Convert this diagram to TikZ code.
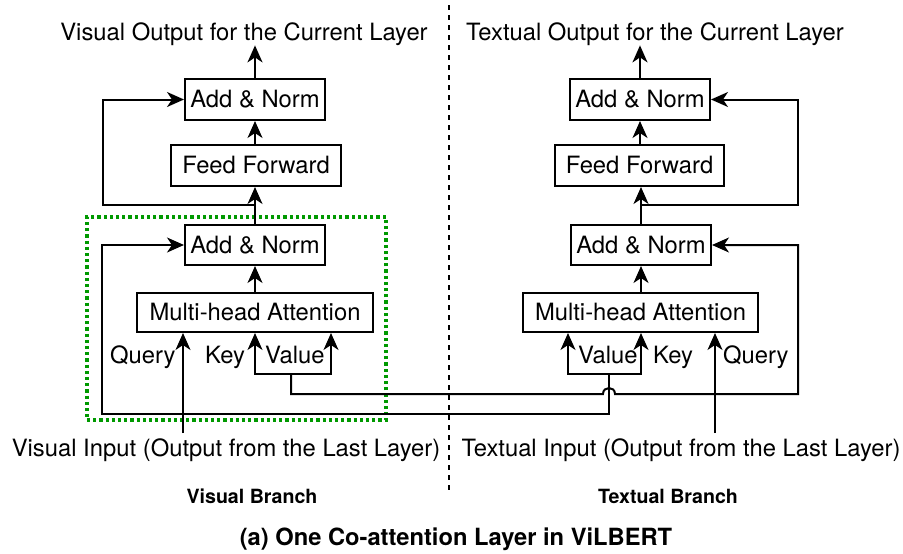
\documentclass[tikz,border=0pt]{standalone}
\usepackage{fontspec}
\setmainfont{TeX Gyre Heros}
\usetikzlibrary{arrows.meta}
\definecolor{grp}{HTML}{009900}
\begin{document}
\begin{tikzpicture}[x=1pt,y=-1pt,
  font=\fontsize{23.8}{28}\selectfont,
  blk/.style={draw,line width=2pt,inner sep=0pt,minimum height=40pt,align=center},
  txt/.style={inner sep=0pt,anchor=base},
  lbl/.style={inner sep=0pt,anchor=base west},
  ln/.style={line width=2pt,line join=miter},
  tip/.tip={Stealth[length=17pt,width=15pt,inset=5pt]},
  arr/.style={ln,-tip},
  barr/.style={ln,tip-tip},
  gbox/.style={draw=grp,line width=3.2pt,dash pattern=on 3.2pt off 3pt,inner sep=0pt},
  bold/.style={font=\fontsize{19.6}{23}\selectfont\bfseries}]
\useasboundingbox (0,0) rectangle (903,554);

% group box
\node[gbox,minimum width=299pt,minimum height=203pt] (grpbox) at (236.5,318.5) {};

% divider
\coordinate (dtop) at (449,5);
\coordinate (dbot) at (449,490);
\draw[line width=1.3pt,dash pattern=on 5pt off 5pt] (dtop) -- (dbot);

% texts
\node[txt] (vout) at (244,40) {Visual Output for the Current Layer};
\node[txt] (tout) at (655,40) {Textual Output for the Current Layer};
\node[txt,inner ysep=5pt] (vin) at (226,456) {Visual Input (Output from the Last Layer)};
\node[txt,inner ysep=5pt] (tin) at (681,456) {Textual Input (Output from the Last Layer)};
\node[txt,bold] (vbr) at (252,503) {Visual Branch};
\node[txt,bold] (tbr) at (668,503) {Textual Branch};
\node[txt,font=\fontsize{23.7}{28}\selectfont\bfseries] (cap) at (456,545) {(a) One Co-attention Layer in ViLBERT};

% left branch boxes
\node[blk,minimum width=140pt,minimum height=41pt] (an1L) at (255,99.5) {Add \& Norm};
\node[blk,minimum width=170pt,minimum height=41pt] (ffL) at (256,165.5) {Feed Forward};
\node[blk,minimum width=140pt] (an2L) at (255,245) {Add \& Norm};
\node[blk,minimum width=236pt,minimum height=39pt] (mhaL) at (255,312.5) {Multi-head Attention};

% right branch boxes
\node[blk,minimum width=140pt,minimum height=41pt] (an1R) at (640,99.5) {Add \& Norm};
\node[blk,minimum width=169pt,minimum height=41pt] (ffR) at (639.5,165.5) {Feed Forward};
\node[blk,minimum width=140pt] (an2R) at (641,245) {Add \& Norm};
\node[blk,minimum width=235pt,minimum height=39pt] (mhaR) at (640.5,312.5) {Multi-head Attention};

% labels
\node[lbl] (qlL) at (110,363) {Query};
\node[lbl] (klL) at (205,363) {Key};
\node[lbl] (vlL) at (265,363) {Value};
\node[lbl] (vlR) at (578,363) {Value};
\node[lbl] (klR) at (653,363) {Key};
\node[lbl] (qlR) at (723,363) {Query};

% coordinates
\coordinate (qL) at (183,0);
\coordinate (qR) at (715,0);
\coordinate (kL) at (255,374);
\coordinate (vL) at (331,374);
\coordinate (mL) at (291,374);
\coordinate (vR) at (568,374);
\coordinate (kR) at (641,374);
\coordinate (mR) at (609,374);
\coordinate (jL) at (255,205);
\coordinate (cL) at (103,205);
\coordinate (jR) at (641,205);
\coordinate (cR) at (798,205);
\coordinate (sx2) at (102,0);
\coordinate (bot2) at (0,414);
\coordinate (hopy) at (0,394);
\coordinate (hopa) at (603,394);
\coordinate (hopb) at (615,394);

% left vertical flow
\draw[arr] (an1L.north) -- (an1L.north |- vout.south);
\draw[arr] (an1L.south |- ffL.north) -- (an1L.south);
\draw[arr] (an2L.north) -- (an2L.north |- ffL.south);
\draw[arr] (mhaL.north) -- (an2L.south);

% right vertical flow
\draw[arr] (an1R.north) -- (an1R.north |- tout.south);
\draw[arr] (an1R.south |- ffR.north) -- (an1R.south);
\draw[arr] (an2R.north) -- (an2R.north |- ffR.south);
\draw[arr] (an2R.south |- mhaR.north) -- (an2R.south);

% residuals around feed forward
\draw[arr] (jL) -- (cL) |- (an1L.west);
\draw[arr] (jR) -- (cR) |- (an1R.east);

% queries
\draw[arr] (vin.north -| qL) -- (qL |- mhaL.south);
\draw[arr] (tin.north -| qR) -- (qR |- mhaR.south);

% key/value brackets
\draw[barr] (kL |- mhaL.south) -- (kL) -- (vL) -- (vL |- mhaL.south);
\draw[barr] (vR |- mhaR.south) -- (vR) -- (kR) -- (kR |- mhaR.south);

% cross connections
\draw[arr] (mR) -- (mR |- bot2) -| (an2L.west -| sx2) -- (an2L.west);
\draw[arr] (mL) -- (mL |- hopy) -- (hopa) .. controls (603,386) and (615,386) .. (hopb) -| (an2R.east -| cR) -- (an2R.east);
\end{tikzpicture}
\end{document}
